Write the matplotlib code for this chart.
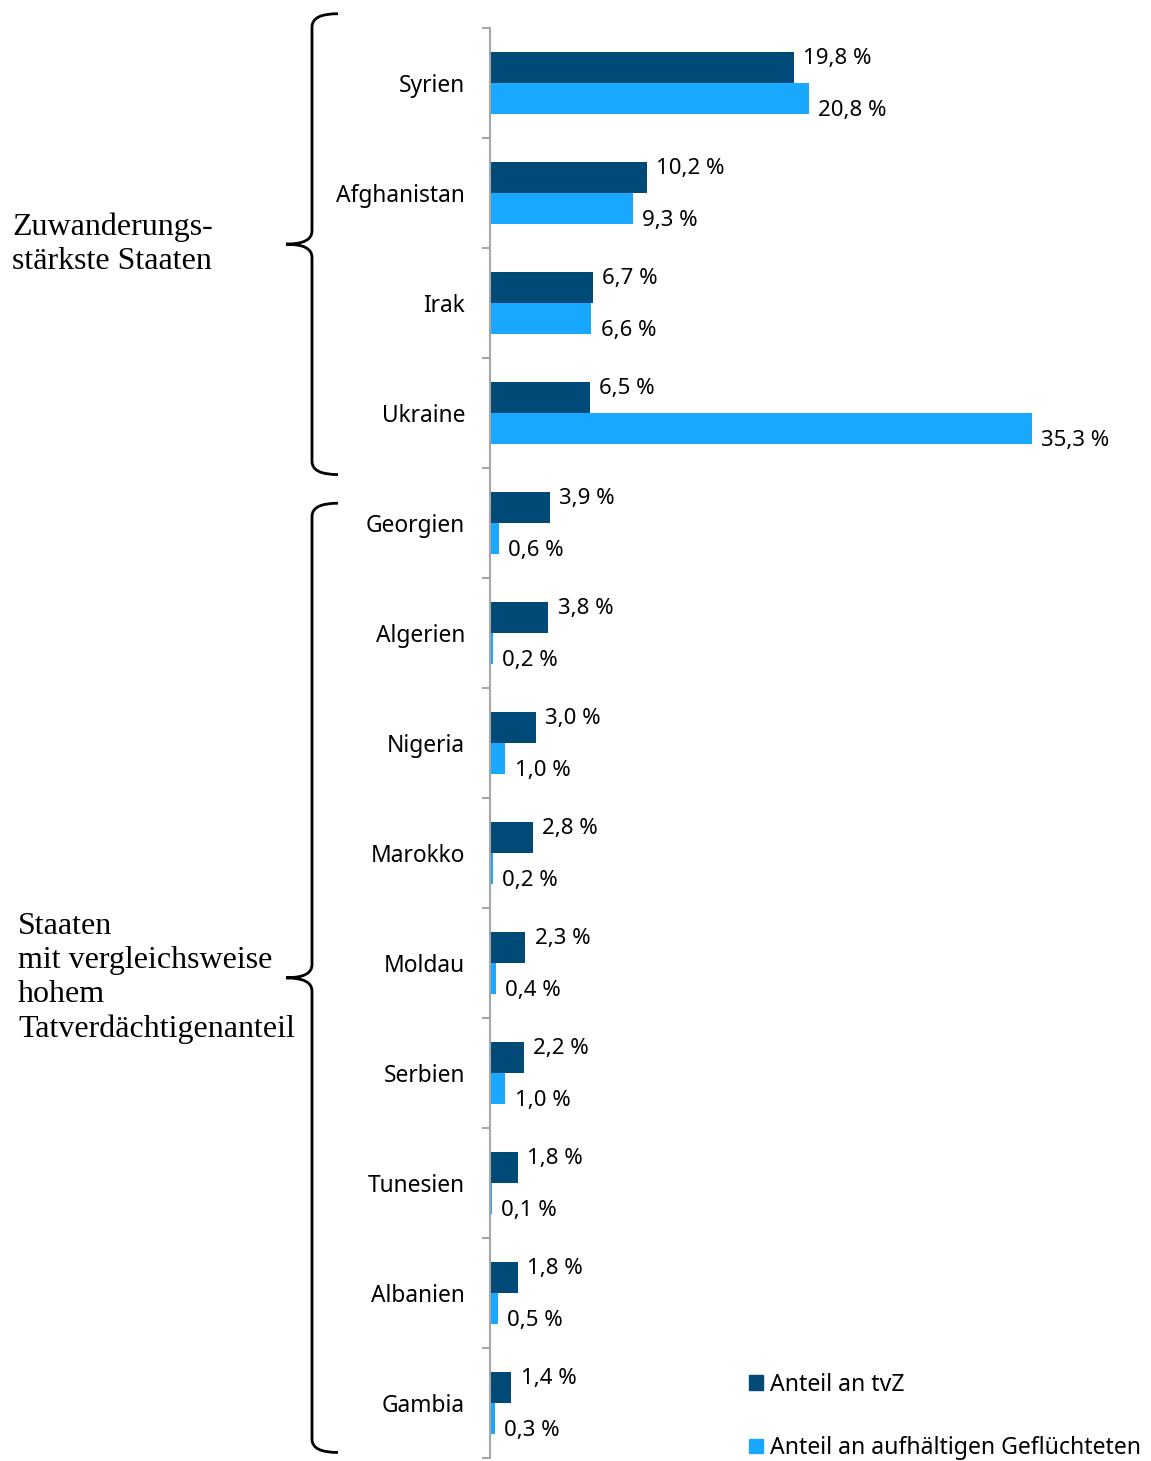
import matplotlib.pyplot as plt
from matplotlib.path import Path
from matplotlib.patches import PathPatch, Patch
from matplotlib.transforms import blended_transform_factory
import numpy as np

plt.rcParams['font.family'] = ['Noto Sans', 'DejaVu Sans']

# Anteile in Prozent
staaten = ['Syrien', 'Afghanistan', 'Irak', 'Ukraine', 'Georgien', 'Algerien',
           'Nigeria', 'Marokko', 'Moldau', 'Serbien', 'Tunesien', 'Albanien', 'Gambia']
anteil_tvz = [19.8, 10.2, 6.7, 6.5, 3.9, 3.8, 3.0, 2.8, 2.3, 2.2, 1.8, 1.8, 1.4]
anteil_gefl = [20.8, 9.3, 6.6, 35.3, 0.6, 0.2, 1.0, 0.2, 0.4, 1.0, 0.1, 0.5, 0.3]
serien = ['Anteil an tvZ', 'Anteil an aufhältigen Geflüchteten']
gruppen = ['Zuwanderungs-\nstärkste Staaten',
           'Staaten\nmit vergleichsweise\nhohem\nTatverdächtigenanteil']

c_dark = '#004a77'
c_light = '#18a8ff'

fig = plt.figure(figsize=(11.51, 14.61), dpi=100)
ax = fig.add_axes([490/1151, 3/1461, 661/1151, 1430/1461])

y = np.arange(len(staaten))
h = 0.28
ax.barh(y - h/2, anteil_tvz, height=h, color=c_dark)
ax.barh(y + h/2, anteil_gefl, height=h, color=c_light)

ax.set_xlim(0, 661/15.35)
ax.set_ylim(len(staaten) - 0.5, -0.5)

def fmt(v):
    return f'{v:.1f} %'.replace('.', ',')

for yi, a, b in zip(y, anteil_tvz, anteil_gefl):
    ax.text(a + 0.6, yi - 0.22, fmt(a), va='center', ha='left', fontsize=16)
    ax.text(b + 0.6, yi + 0.25, fmt(b), va='center', ha='left', fontsize=16)

for s in ['top', 'right', 'bottom']:
    ax.spines[s].set_visible(False)
ax.spines['left'].set_color('#a6a6a6')
ax.spines['left'].set_linewidth(1.5)
ax.set_xticks([])
ax.set_yticks(y)
ax.set_yticklabels(staaten, fontsize=16.4)
ax.tick_params(axis='y', which='major', length=0, pad=18)
ax.set_yticks(np.arange(len(staaten) + 1) - 0.5, minor=True)
ax.tick_params(axis='y', which='minor', length=6, width=1.5, color='#a6a6a6')

# geschweifte Klammern
tr = blended_transform_factory(fig.transFigure, ax.transData)

def klammer(y0, y1, x=312/1151, w=26/1151, tip=26/1151):
    ym = (y0 + y1) / 2
    c = 0.12
    verts = [(x + w, y0), (x, y0 - 0.0), (x, y0 + c), (x, y0 + c),
             (x, ym - c), (x, ym), (x - tip, ym),
             (x, ym), (x, ym + c),
             (x, y1 - c), (x, y1 - c), (x, y1), (x + w, y1)]
    codes = [Path.MOVETO, Path.CURVE3, Path.CURVE3, Path.LINETO,
             Path.LINETO, Path.CURVE3, Path.CURVE3,
             Path.CURVE3, Path.CURVE3,
             Path.LINETO, Path.LINETO, Path.CURVE3, Path.CURVE3]
    p = PathPatch(Path(verts, codes), fill=False, lw=2, color='black',
                  transform=tr, clip_on=False)
    fig.add_artist(p)

klammer(-0.63, 3.56)
klammer(3.82, 12.45)

fig.text(12/1151, 1 - 244/1461, gruppen[0], family='Liberation Serif',
         fontsize=23, va='center', ha='left', linespacing=1.22)
fig.text(18/1151, 1 - 978/1461, gruppen[1], family='Liberation Serif',
         fontsize=23, va='center', ha='left', linespacing=1.22)

handles = [Patch(color=c_dark), Patch(color=c_light)]
fig.legend(handles, serien, loc='lower left', bbox_to_anchor=(749/1151, 1/1461),
           frameon=False, fontsize=16.6, handlelength=0.6, handleheight=0.6,
           handletextpad=0.3, labelspacing=1.7, borderpad=0, borderaxespad=0)

fig.savefig('out.png', dpi=100)
